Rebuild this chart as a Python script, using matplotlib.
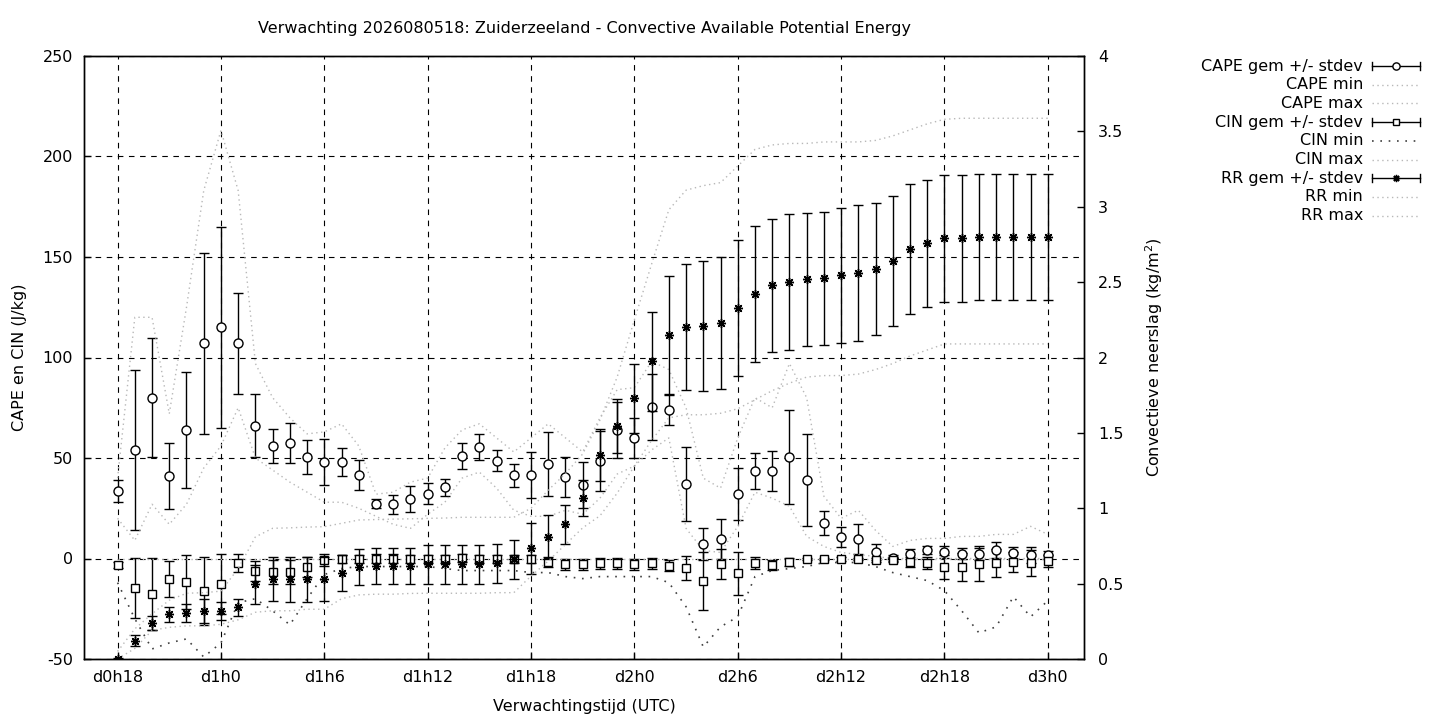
import matplotlib
matplotlib.use("Agg")
import matplotlib.pyplot as plt

plt.rcParams['font.family'] = ['DejaVu Sans']
plt.rcParams['font.size'] = 11.5
plt.rcParams['axes.unicode_minus'] = False

# forecast hours (18 .. 72)
hours = list(range(18, 73))
xtick_pos = [18, 24, 30, 36, 42, 48, 54, 60, 66, 72]
xtick_labels = ['d0h18', 'd1h0', 'd1h6', 'd1h12', 'd1h18', 'd2h0', 'd2h6', 'd2h12', 'd2h18', 'd3h0']

cape_mean = [33.6, 54, 80, 41, 64, 107,
             115, 107, 66, 56, 57.3, 50.5,
             48, 48, 41.4, 27.3, 27, 29.6,
             32.2, 35.4, 51, 55.4, 48.6, 41.4,
             41.4, 47, 40.5, 36.4, 48.5, 64,
             60, 75.5, 74, 37.1, 7.2, 9.7,
             32.1, 43.5, 43.5, 50.3, 39, 17.5,
             10.7, 9.7, 3.2, 0.3, 2.2, 4.1,
             3.1, 2.4, 2.4, 4.2, 2.7, 1.7,
             1.7]
cape_sd = [5.4, 40, 29.5, 16.6, 29, 45,
           50, 25.3, 15.6, 8.6, 10, 8.6,
           11.6, 6.9, 7.4, 2.2, 4.8, 6.3,
           5.2, 4.3, 6.6, 6.3, 5.2, 5.8,
           11.5, 16, 9.9, 11.5, 15, 14,
           10, 16.5, 7.5, 18.3, 8, 9.8,
           12.7, 9.1, 10, 23.4, 22.8, 6,
           5, 7.5, 3.9, 1.5, 2.4, 2,
           3, 2.7, 3, 3.8, 3, 3.9,
           2]
cape_min = [20, 9, 27, 17, 27, 45,
            56, 75, 50, 44, 38, 33,
            28, 28, 25, 21, 17, 15,
            22, 28, 40, 43, 35, 24,
            21, 21, 24, 22, 30, 42,
            46, 54, 60, 15, 4, 3,
            16, 33, 30, 26, 11, 6,
            3, 2, 1, 0, 0, 0,
            0, 0, 0, 0, 0, 0,
            0]
cape_max = [40, 120, 120, 72, 125, 183,
            213, 183, 97, 80, 70, 62,
            63, 67, 56, 32, 33, 38,
            40, 55, 64, 67, 60, 53,
            60, 67, 60, 53, 70, 84,
            85, 98, 94, 75, 40, 35,
            60, 80, 75, 97, 80, 31,
            20, 24, 14, 6, 9, 10,
            10, 11, 11, 12, 12, 16,
            12]

cin_mean = [-3.4, -14.7, -17.7, -10.3, -11.8, -16.2,
            -12.8, -2.2, -6.2, -6.9, -6.9, -4.2,
            -0.7, -0.4, -0.4, 0, 0, -0.4,
            -0.4, -0.4, 0.1, -0.4, -0.4, -0.4,
            -0.4, -1.6, -2.9, -2.9, -2.4, -2.4,
            -2.9, -2.4, -3.6, -4.6, -11.2, -2.7,
            -7.4, -2.2, -3.4, -1.7, -0.4, -0.4,
            -0.4, -0.4, -0.9, -0.7, -1.9, -2.2,
            -4.2, -4.4, -2.6, -2.1, -1.7, -2.2,
            -1.2]
cin_sd = [1.5, 15, 18, 9, 13.5, 17,
          15, 4.5, 5, 6, 6, 5,
          3, 2, 2, 2, 2, 2,
          2, 2, 2, 2, 2, 2,
          2, 2.5, 2.7, 2.7, 2.7, 2.7,
          2.7, 2.7, 2.7, 6, 14.2, 7.3,
          10.8, 2.8, 2.5, 2, 0.5, 0.5,
          1, 0.5, 1, 1, 2.5, 3,
          6, 7, 8.8, 7, 5, 6.5,
          3]
cin_min = [-12, -30, -45, -42, -40, -49,
           -42, -22, -20, -26, -33, -20,
           -8, -5, -4, -4, -4, -4,
           -4, -5, -6, -6, -6, -6,
           -7, -7, -9, -10, -9, -9,
           -9, -9, -12, -24, -44, -34,
           -29, -9, -6, -5, -4, -2,
           -2, -2, -4, -7, -9, -11,
           -16, -26, -37, -34, -19, -29,
           -21]
cin_max = [0, 0, 0, 0, 0, 0,
           0, 0, 0, 0, 0, 0,
           0, 0, 0, 0, 0, 0,
           0, 0, 0, 0, 0, 0,
           0, 0, 0, 0, 0, 0,
           0, 0, 0, 0, 0, 0,
           0, 0, 0, 0, 0, 0,
           0, 0, 0, 0, 0, 0,
           0, 0, 0, 0, 0, 0,
           0]

rr_mean = [0.0, 0.12, 0.237, 0.296, 0.303, 0.318,
           0.318, 0.343, 0.495, 0.529, 0.529, 0.529,
           0.529, 0.570, 0.61, 0.615, 0.615, 0.615,
           0.628, 0.628, 0.628, 0.628, 0.635, 0.661,
           0.734, 0.807, 0.893, 1.07, 1.354, 1.545,
           1.729, 1.975, 2.149, 2.202, 2.207, 2.227,
           2.328, 2.419, 2.479, 2.499, 2.519, 2.525,
           2.545, 2.561, 2.587, 2.640, 2.718, 2.757,
           2.790, 2.790, 2.797, 2.797, 2.797, 2.797,
           2.797]
rr_sd = [0.005, 0.037, 0.045, 0.05, 0.06, 0.08,
         0.06, 0.058, 0.13, 0.145, 0.15, 0.15,
         0.145, 0.12, 0.12, 0.12, 0.12, 0.12,
         0.13, 0.13, 0.13, 0.13, 0.13, 0.13,
         0.168, 0.145, 0.13, 0.12, 0.17, 0.18,
         0.23, 0.33, 0.394, 0.42, 0.431, 0.437,
         0.449, 0.451, 0.44, 0.45, 0.44, 0.44,
         0.45, 0.45, 0.44, 0.43, 0.43, 0.42,
         0.42, 0.42, 0.417, 0.417, 0.417, 0.417,
         0.417]
rr_min = [0.0, 0.07, 0.19, 0.21, 0.22, 0.22,
          0.23, 0.26, 0.31, 0.32, 0.32, 0.33,
          0.33, 0.40, 0.425, 0.43, 0.43, 0.435,
          0.436, 0.436, 0.436, 0.436, 0.44, 0.44,
          0.55, 0.65, 0.76, 0.87, 0.95, 1.1,
          1.28, 1.45, 1.6, 1.62, 1.62, 1.63,
          1.66, 1.72, 1.78, 1.83, 1.87, 1.88,
          1.88, 1.89, 1.92, 1.96, 2.01, 2.05,
          2.09, 2.09, 2.09, 2.09, 2.09, 2.09,
          2.09]
rr_max = [0.05, 0.2, 0.3, 0.39, 0.436, 0.44,
          0.45, 0.6, 0.81, 0.867, 0.87, 0.875,
          0.878, 0.9, 0.922, 0.925, 0.928, 0.93,
          0.933, 0.935, 0.94, 0.94, 0.94, 0.94,
          1.0, 1.12, 1.23, 1.36, 1.585, 1.87,
          2.25, 2.62, 2.98, 3.11, 3.14, 3.16,
          3.27, 3.38, 3.41, 3.42, 3.42, 3.43,
          3.43, 3.43, 3.44, 3.47, 3.51, 3.55,
          3.58, 3.587, 3.587, 3.587, 3.587, 3.587,
          3.587]

# line styles
light = dict(color='0.72', lw=1.0, ls=(0, (1, 2.5)))
dark = dict(color='0.25', lw=1.2, ls=(0, (1, 4)))
ebar = dict(fmt='', ls='none', ecolor='black', elinewidth=1.0, capsize=3.6, capthick=1.0, mec='black')
mk = {'cape': dict(marker='o', mfc='white', ms=6.5, mew=1.0),
      'cin': dict(marker='s', mfc='white', ms=6.0, mew=1.0),
      'rr': dict(marker=(8, 2, 0), mfc='black', ms=6.5, mew=1.0)}

fig = plt.figure(figsize=(14.4, 7.2), dpi=100)
ax = fig.add_axes([84 / 1440, 1 - 659 / 720, 1000 / 1440, 603 / 720])
ax2 = ax.twinx()

ax.errorbar(hours, cape_mean, yerr=cape_sd, **mk['cape'], **ebar)
ax.plot(hours, cape_min, **light)
ax.plot(hours, cape_max, **light)
ax.errorbar(hours, cin_mean, yerr=cin_sd, **mk['cin'], **ebar)
ax.plot(hours, cin_min, **dark)
ax.plot(hours, cin_max, **light)
ax2.errorbar(hours, rr_mean, yerr=rr_sd, **mk['rr'], **ebar)
ax2.plot(hours, rr_min, **light)
ax2.plot(hours, rr_max, **light)

ax.set_xlim(16.05, 74.1)
ax.set_ylim(-50, 250)
ax2.set_ylim(0, 4)
ax.set_xticks(xtick_pos)
ax.set_xticklabels(xtick_labels)
ax.set_yticks(range(-50, 251, 50))
ax2.set_yticks([0, 0.5, 1, 1.5, 2, 2.5, 3, 3.5, 4])
ax2.set_yticklabels(['0', '0.5', '1', '1.5', '2', '2.5', '3', '3.5', '4'])

ax.grid(True, color='black', lw=0.8, ls=(0, (5, 5)))
ax.tick_params(axis='both', direction='in', length=5, width=1)
ax.tick_params(axis='x', pad=8)
ax.tick_params(axis='y', pad=8)
ax2.tick_params(axis='y', direction='in', length=5, width=1, pad=10)
for a in (ax, ax2):
    for s in a.spines.values():
        s.set_linewidth(1.0)

ax.set_xlabel('Verwachtingstijd (UTC)')
ax.xaxis.set_label_coords(0.5, -0.066)
ax.set_ylabel('CAPE en CIN (J/kg)')
ax.yaxis.set_label_coords(-0.057, 0.5)
ax2.set_ylabel('Convectieve neerslag (kg/m$^2$)')
ax2.yaxis.set_label_coords(1.059, 0.5)

fig.text(584 / 1440, 1 - 28 / 720,
         'Verwachting 2026080518: Zuiderzeeland - Convective Available Potential Energy',
         ha='center', va='center')

# key, gnuplot style: right aligned text, sample to the right
lax = fig.add_axes([0, 0, 1, 1])
lax.set_xlim(0, 1440)
lax.set_ylim(720, 0)
lax.axis('off')
entries = [('CAPE gem +/- stdev', 'cape'), ('CAPE min', light), ('CAPE max', light),
           ('CIN gem +/- stdev', 'cin'), ('CIN min', dark), ('CIN max', light),
           ('RR gem +/- stdev', 'rr'), ('RR min', light), ('RR max', light)]
x0, x1 = 1372, 1420
for i, (label, style) in enumerate(entries):
    y = 66 + i * 18.7
    lax.text(1363, y, label, ha='right', va='center')
    if isinstance(style, str):
        lax.plot([x0, x1], [y, y], color='black', lw=1.0)
        lax.plot([x0, x0], [y - 4, y + 4], color='black', lw=1.0)
        lax.plot([x1, x1], [y - 4, y + 4], color='black', lw=1.0)
        m = mk[style]
        lax.plot([(x0 + x1) / 2], [y], marker=m['marker'], mfc=m['mfc'], mec='black',
                 ms=m['ms'] * 0.8, mew=1.0, ls='none')
    else:
        lax.plot([x0, x1], [y, y], **style)

plt.savefig('out.png', dpi=100)
